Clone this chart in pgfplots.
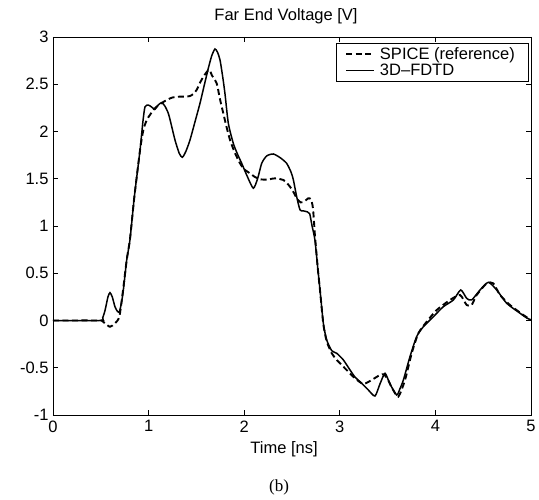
\documentclass[border=0pt]{standalone}
\usepackage{pgfplots}
\pgfplotsset{compat=1.18}
\usepackage{fontspec}
\setmainfont{Liberation Sans}
\newfontfamily\seriffont{Liberation Serif}
\begin{document}
\begin{tikzpicture}
\path[use as bounding box] (0,0) rectangle (539pt,500pt);
\begin{axis}[
  at={(53pt,85pt)}, anchor=south west,
  scale only axis, width=478pt, height=378pt,
  xmin=0, xmax=5, ymin=-1, ymax=3,
  xtick={0,1,2,3,4,5},
  ytick={-1,-0.5,0,0.5,1,1.5,2,2.5,3},
  yticklabels={-1,-0.5,0,0.5,1,1.5,2,2.5,3},
  /pgf/number format/assume math mode=true,
  tick align=inside, major tick length=5pt,
  axis line style={line width=0.8pt},
  every tick/.style={line width=0.7pt, black},
  font=\fontsize{16.5}{19}\selectfont,
  ticklabel style={font=\fontsize{16.5}{19}\selectfont},
  xticklabel style={yshift=-2pt},
  yticklabel style={xshift=-1pt},
  title={Far End Voltage [V]},
  title style={at={(0.5,1)}, anchor=base, yshift=10pt, xshift=-6pt},
  xlabel={Time [ns]},
  xlabel style={at={(0.5,0)}, anchor=base, yshift=-39pt, xshift=-8pt},
  legend style={at={(rel axis cs:0.996,0.984)}, anchor=north east,
    font=\fontsize{16.5}{19}\selectfont, draw=black, line width=0.6pt,
    inner xsep=9pt, inner ysep=3pt, row sep=1pt,
    nodes={inner xsep=5pt, inner ysep=1pt}},
  legend cell align=left,
  legend image code/.code={\draw[#1] (0pt,0pt) -- (28pt,0pt);},
]
\addplot[black, line width=1.9pt, dash pattern=on 6pt off 3.5pt, smooth, tension=0.4] coordinates {
(0,0) (0.49,0) (0.52,-0.01) (0.544,-0.03) (0.596,-0.066) (0.648,-0.03) (0.694,0.04)
(0.73,0.3) (0.771,0.64) (0.805,0.86) (0.85,1.3) (0.91,1.8) (0.945,2.016) (0.98,2.12)
(1.014,2.175) (1.06,2.24) (1.119,2.29) (1.189,2.333) (1.25,2.36) (1.311,2.368)
(1.38,2.37) (1.433,2.375) (1.47,2.40) (1.503,2.44) (1.54,2.52) (1.573,2.58)
(1.625,2.65) (1.645,2.64) (1.66,2.598) (1.712,2.51) (1.745,2.35) (1.782,2.19)
(1.815,2.05) (1.852,1.91) (1.90,1.78) (1.956,1.663) (2.00,1.60) (2.061,1.557)
(2.11,1.52) (2.165,1.495) (2.235,1.490) (2.29,1.50) (2.339,1.505) (2.38,1.495)
(2.41,1.487) (2.45,1.45) (2.479,1.416) (2.52,1.35) (2.549,1.293) (2.59,1.25)
(2.63,1.26) (2.67,1.293) (2.70,1.28) (2.72,1.18) (2.74,0.90) (2.77,0.55)
(2.793,0.32) (2.828,-0.04) (2.863,-0.22) (2.916,-0.347) (2.968,-0.417)
(3.054,-0.506) (3.141,-0.595) (3.20,-0.645) (3.246,-0.672) (3.29,-0.655)
(3.333,-0.63) (3.42,-0.577) (3.46,-0.57) (3.50,-0.62) (3.55,-0.72) (3.612,-0.806)
(3.682,-0.63) (3.752,-0.347) (3.822,-0.135) (3.909,-0.013) (4.014,0.111)
(4.153,0.217) (4.258,0.27) (4.327,0.164) (4.379,0.164) (4.432,0.27) (4.537,0.393)
(4.606,0.393) (4.676,0.27) (4.78,0.164) (4.92,0.058) (5.0,0.005)
};
\addlegendentry{SPICE (reference)}
\addplot[black, line width=1.5pt, smooth, tension=0.4] coordinates {
(0,0) (0.49,0) (0.52,0.03) (0.545,0.11) (0.575,0.25) (0.596,0.294) (0.62,0.25)
(0.648,0.146) (0.675,0.095) (0.694,0.093) (0.715,0.18) (0.736,0.323) (0.771,0.64)
(0.805,0.852) (0.85,1.3) (0.91,1.8) (0.94,2.1) (0.962,2.26) (0.997,2.28)
(1.03,2.26) (1.067,2.235) (1.10,2.28) (1.137,2.305) (1.17,2.27) (1.207,2.19)
(1.24,2.06) (1.276,1.91) (1.32,1.77) (1.353,1.727) (1.39,1.79) (1.433,1.91)
(1.49,2.12) (1.538,2.30) (1.58,2.48) (1.625,2.67) (1.66,2.80) (1.694,2.873)
(1.72,2.84) (1.747,2.757) (1.775,2.58) (1.799,2.40) (1.834,2.087) (1.886,1.875)
(1.93,1.76) (1.974,1.663) (2.03,1.53) (2.095,1.40) (2.14,1.50) (2.183,1.663)
(2.235,1.741) (2.305,1.762) (2.38,1.72) (2.444,1.663) (2.49,1.57) (2.514,1.49)
(2.549,1.31) (2.584,1.17) (2.618,1.16) (2.66,1.15) (2.685,1.13) (2.71,1.0)
(2.74,0.852) (2.77,0.55) (2.793,0.323) (2.828,-0.03) (2.863,-0.206) (2.916,-0.32)
(2.968,-0.347) (3.037,-0.417) (3.107,-0.524) (3.16,-0.60) (3.212,-0.648)
(3.298,-0.735) (3.368,-0.799) (3.42,-0.672) (3.473,-0.559) (3.525,-0.672)
(3.595,-0.788) (3.63,-0.72) (3.665,-0.63) (3.734,-0.383) (3.804,-0.171)
(3.874,-0.066) (3.979,0.04) (4.083,0.146) (4.188,0.217) (4.265,0.323)
(4.327,0.235) (4.379,0.217) (4.467,0.323) (4.554,0.404) (4.641,0.323)
(4.746,0.182) (4.886,0.076) (4.95,0.03) (5.0,0.005)
};
\addlegendentry{3D--FDTD}
\end{axis}
\node[font=\seriffont\fontsize{17}{20}\selectfont] at (279pt,13pt) {(b)};
\end{tikzpicture}
\end{document}
